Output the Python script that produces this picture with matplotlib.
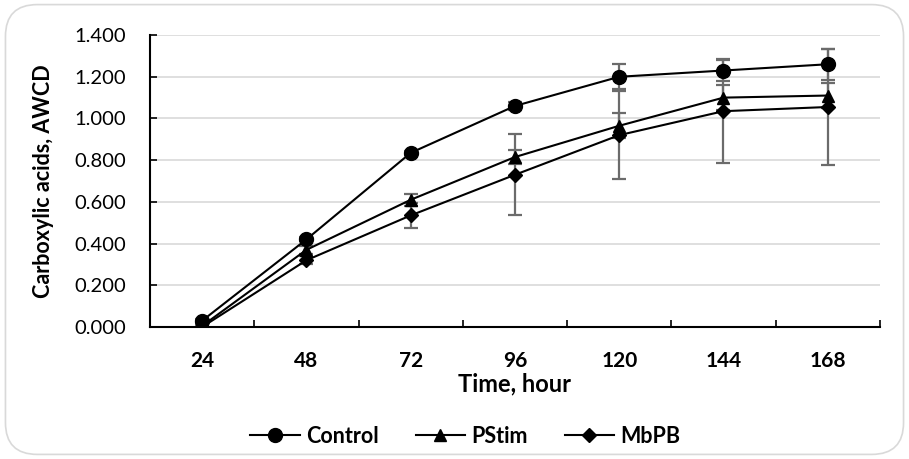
import numpy as np
import matplotlib.pyplot as plt
from matplotlib.patches import FancyBboxPatch

# _________________________________________________________________
# data
hours = ["24", "48", "72", "96", "120", "144", "168"]

control = [0.030, 0.420, 0.835, 1.060, 1.200, 1.230, 1.260]
control_err = [0.010, 0.010, 0.010, 0.020, 0.060, 0.050, 0.075]

pstim = [0.005, 0.370, 0.610, 0.815, 0.965, 1.100, 1.110]
pstim_err = [0.005, 0.020, 0.030, 0.035, 0.060, 0.060, 0.060]

mbpb = [0.000, 0.320, 0.535, 0.730, 0.920, 1.035, 1.055]
mbpb_err = [0.005, 0.020, 0.060, 0.195, 0.210, 0.250, 0.280]
# _________________________________________________________________

plt.rcParams['font.family'] = ['Lato', 'DejaVu Sans']

fig = plt.figure(figsize=(9.09, 4.59), dpi=100)
ax = fig.add_axes([0.165, 0.2876, 0.803, 0.636])

# rounded frame around the chart
frame = FancyBboxPatch((0.006, 0.01), 0.988, 0.98, transform=fig.transFigure,
                       boxstyle="round,pad=0,rounding_size=0.035",
                       facecolor="white", edgecolor="#d9d9d9", lw=1.2,
                       zorder=-10, mutation_aspect=909 / 459)
fig.patches.append(frame)

x = np.arange(len(hours))

series = [
    ("Control", control, control_err, "o", 10),
    ("PStim", pstim, pstim_err, "^", 9),
    ("MbPB", mbpb, mbpb_err, "D", 7.5),
]

for name, vals, err, marker, ms in series:
    ax.errorbar(x, vals, yerr=err, fmt="none", ecolor="#6b6b6b",
                elinewidth=1.6, capsize=5, capthick=1.6, zorder=2)
    ax.plot(x, vals, color="black", lw=1.5, marker=marker, markersize=ms,
            markerfacecolor="black", markeredgecolor="black", label=name,
            zorder=3)

ax.set_xlim(-0.5, len(hours) - 0.5)
ax.set_ylim(0, 1.4)
ax.set_yticks(np.arange(0, 1.41, 0.2))
ax.set_yticklabels([f"{v:.3f}" for v in np.arange(0, 1.41, 0.2)], fontsize=14.5)
ax.set_xticks(x)
ax.set_xticklabels(hours, fontsize=15, fontweight="bold")
ax.set_xticks(np.arange(-0.5, len(hours)), minor=True)
ax.tick_params(axis="x", which="major", length=0, pad=17)
ax.tick_params(axis="x", which="minor", length=5, direction="in", width=1.2)
ax.tick_params(axis="y", length=5, direction="in", width=1.2, pad=17)

ax.grid(axis="y", color="#d9d9d9", lw=1.2)
ax.set_axisbelow(True)
for side in ["top", "right"]:
    ax.spines[side].set_visible(False)
for side in ["left", "bottom"]:
    ax.spines[side].set_linewidth(1.5)
    ax.spines[side].set_zorder(4)

ax.set_xlabel("Time, hour", fontsize=17, fontweight="bold", labelpad=1)
ax.set_ylabel("Carboxylic acids, AWCD", fontsize=15.5, fontweight="bold", labelpad=15)

leg = fig.legend(loc="center", bbox_to_anchor=(0.512, 0.05), ncol=3, frameon=False,
                 prop={"size": 15.5, "weight": "bold"}, handlelength=2.3,
                 columnspacing=1.7, handletextpad=0.3)

plt.savefig("out.png", dpi=100)
